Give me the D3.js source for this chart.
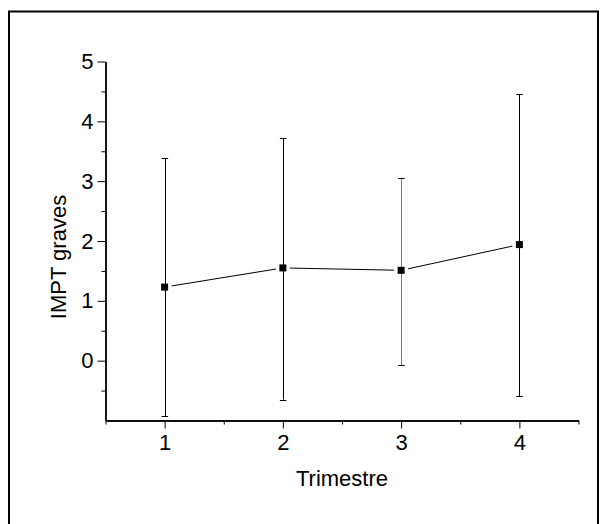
<!DOCTYPE html>
<html>
<head>
<meta charset="utf-8">
<script src="https://cdn.jsdelivr.net/npm/d3@7"></script>
<style>
  body { margin: 0; background: #fff; }
  text { font-family: 'Liberation Sans', Arial, sans-serif; fill: #000; }
</style>
</head>
<body>
<div id="chart"></div>
<script>
// Data
const trimestres = [1, 2, 3, 4];
const means = [1.23, 1.55, 1.51, 1.94];
const upper = [3.38, 3.72, 3.06, 4.45];
const lower = [-0.93, -0.65, -0.08, -0.59];
const barColors = ['#000', '#000', '#777', '#000'];

const xMajor = [1, 2, 3, 4];
const xMinor = [0.5, 1.5, 2.5, 3.5, 4.5];
const yMajor = [0, 1, 2, 3, 4, 5];
const yMinor = [-0.5, 0.5, 1.5, 2.5, 3.5, 4.5];

const data = trimestres.map((t, i) => ({
  t: t,
  mean: means[i],
  hi: upper[i],
  lo: lower[i],
  color: barColors[i],
}));

const W = 605;
const H = 524;

const svg = d3
  .select('#chart')
  .append('svg')
  .attr('width', W)
  .attr('height', H);

// outer frame
svg
  .append('rect')
  .attr('x', 9)
  .attr('y', 11.5)
  .attr('width', 589)
  .attr('height', 520)
  .attr('fill', 'none')
  .attr('stroke', '#000')
  .attr('stroke-width', 2);

const x = d3.scaleLinear().domain([0.5, 4.5]).range([105.5, 578.5]);
const y = d3.scaleLinear().domain([-1, 5]).range([420.5, 61.5]);

// x axis (major + minor ticks)
const gx = svg.append('g').attr('transform', `translate(0,${y(-1)})`);
gx.call(
  d3
    .axisBottom(x)
    .tickValues(xMajor)
    .tickFormat(d3.format('d'))
    .tickSize(8)
    .tickSizeOuter(0)
    .tickPadding(6)
);
gx.append('g').call(
  d3.axisBottom(x).tickValues(xMinor).tickSize(4).tickSizeOuter(0).tickFormat('')
);
gx.selectAll('text').style('font-size', '22px');

// y axis
const gy = svg.append('g').attr('transform', `translate(${x(0.5)},0)`);
gy.call(
  d3
    .axisLeft(y)
    .tickValues(yMajor)
    .tickFormat(d3.format('d'))
    .tickSize(8)
    .tickSizeOuter(0)
    .tickPadding(4)
);
gy.append('g').call(
  d3.axisLeft(y).tickValues(yMinor).tickSize(4).tickSizeOuter(0).tickFormat('')
);
gy.selectAll('text').style('font-size', '22px');

svg.selectAll('.domain').attr('stroke', '#000').attr('stroke-width', 1.4);
svg.selectAll('.tick line').attr('stroke', '#000');

// axis titles
svg
  .append('text')
  .attr('x', (x(0.5) + x(4.5)) / 2)
  .attr('y', 486)
  .attr('text-anchor', 'middle')
  .style('font-size', '22px')
  .text('Trimestre');

svg
  .append('text')
  .attr('transform', 'translate(66,257) rotate(-90)')
  .attr('text-anchor', 'middle')
  .style('font-size', '22px')
  .text('IMPT graves');

// connecting line
svg
  .append('path')
  .datum(data)
  .attr('fill', 'none')
  .attr('stroke', '#000')
  .attr('stroke-width', 1)
  .attr('d', d3.line().x((d) => x(d.t)).y((d) => y(d.mean)));

// white halo round each marker so the line stops short of it
svg
  .selectAll('rect.halo')
  .data(data)
  .join('rect')
  .attr('class', 'halo')
  .attr('x', (d) => x(d.t) - 7)
  .attr('y', (d) => y(d.mean) - 7)
  .attr('width', 14)
  .attr('height', 14)
  .attr('fill', '#fff');

// error bars
const bars = svg.selectAll('g.err').data(data).join('g').attr('class', 'err');
bars
  .append('line')
  .attr('x1', (d) => Math.round(x(d.t)) + 0.5)
  .attr('x2', (d) => Math.round(x(d.t)) + 0.5)
  .attr('y1', (d) => y(d.hi))
  .attr('y2', (d) => y(d.lo))
  .attr('stroke', (d) => d.color);
bars
  .selectAll('line.cap')
  .data((d) => [
    { t: d.t, v: d.hi },
    { t: d.t, v: d.lo },
  ])
  .join('line')
  .attr('class', 'cap')
  .attr('x1', (d) => x(d.t) - 3)
  .attr('x2', (d) => x(d.t) + 3.5)
  .attr('y1', (d) => Math.round(y(d.v)) + 0.5)
  .attr('y2', (d) => Math.round(y(d.v)) + 0.5)
  .attr('stroke', '#000');

// square markers
svg
  .selectAll('rect.pt')
  .data(data)
  .join('rect')
  .attr('class', 'pt')
  .attr('x', (d) => x(d.t) - 3.5)
  .attr('y', (d) => y(d.mean) - 3.5)
  .attr('width', 7)
  .attr('height', 7)
  .attr('fill', '#000');
</script>
</body>
</html>
